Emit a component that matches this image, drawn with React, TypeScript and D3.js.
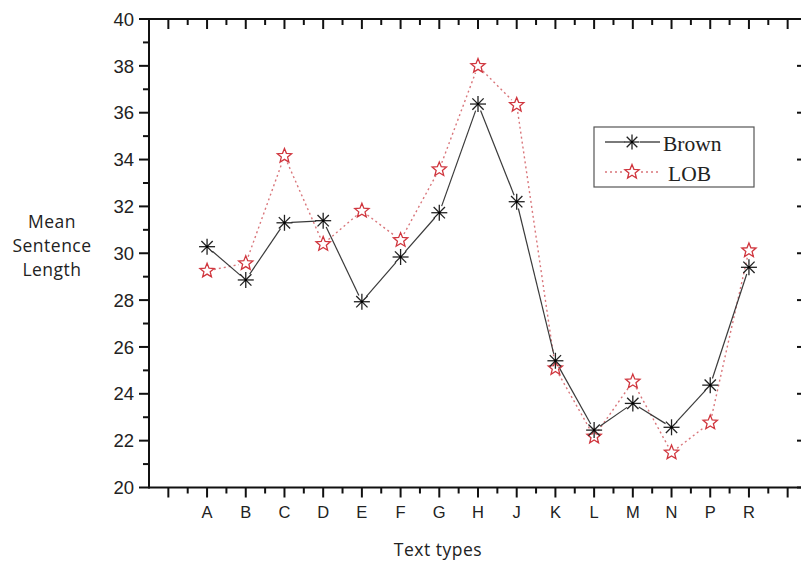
import React from "react";
import * as d3 from "d3";

const categories = ["", "A", "B", "C", "D", "E", "F", "G", "H", "J", "K", "L", "M", "N", "P", "R", ""];
const brownValues = [30.28, 28.86, 31.3, 31.39, 27.93, 29.84, 31.73, 36.37, 32.2, 25.41, 22.45, 23.59, 22.57, 24.37, 29.4];
const lobValues = [29.25, 29.57, 34.15, 30.39, 31.81, 30.56, 33.58, 37.99, 36.33, 25.09, 22.17, 24.52, 21.49, 22.77, 30.12];
const yTicks = [20, 22, 24, 26, 28, 30, 32, 34, 36, 38, 40];
const yMinorTicks = [21, 23, 25, 27, 29, 31, 33, 35, 37, 39];
const seriesNames = ["Brown", "LOB"];

const W = 801, H = 561;
const L = 149, R = 807, T = 19, B = 487.5;

function starPath(cx: number, cy: number, ro: number, ri: number) {
  const pts: [number, number][] = [];
  for (let i = 0; i < 10; i++) {
    const a = -Math.PI / 2 + (i * Math.PI) / 5;
    const r = i % 2 === 0 ? ro : ri;
    pts.push([cx + r * Math.cos(a), cy + r * Math.sin(a)]);
  }
  return "M" + pts.map((p) => p.join(",")).join("L") + "Z";
}

function Asterisk({ cx, cy, r }: { cx: number; cy: number; r: number }) {
  const angles = [0, 45, 90, 135];
  return (
    <g stroke="#222" strokeWidth={1.3}>
      {angles.map((a) => {
        const rad = (a * Math.PI) / 180;
        return (
          <line key={a} x1={cx - r * Math.cos(rad)} y1={cy - r * Math.sin(rad)} x2={cx + r * Math.cos(rad)} y2={cy + r * Math.sin(rad)} />
        );
      })}
      <circle cx={cx} cy={cy} r={1.3} fill="#000" stroke="none" />
    </g>
  );
}

function gapSegments(pts: [number, number][], gap: number) {
  const segs: [number, number, number, number][] = [];
  for (let i = 0; i < pts.length - 1; i++) {
    const [x1, y1] = pts[i];
    const [x2, y2] = pts[i + 1];
    const dx = x2 - x1, dy = y2 - y1;
    const len = Math.hypot(dx, dy);
    if (len <= 2 * gap) continue;
    const ux = dx / len, uy = dy / len;
    segs.push([x1 + ux * gap, y1 + uy * gap, x2 - ux * gap, y2 - uy * gap]);
  }
  return segs;
}

export default function App() {
  const x = d3.scaleLinear().domain([-0.5, categories.length - 0.5]).range([L, R]);
  const y = d3.scaleLinear().domain([20, 40]).range([B, T]);

  const brownPts: [number, number][] = brownValues.map((v, i) => [x(i + 1), y(v)]);
  const lobPts: [number, number][] = lobValues.map((v, i) => [x(i + 1), y(v)]);

  const majorX = d3.range(categories.length);
  const minorX = d3.range(categories.length - 1).map((i) => i + 0.5);

  const sans = "'Liberation Sans', Arial, sans-serif";
  const uiFont = "'Open Sans', 'Noto Sans', sans-serif";
  const serif = "'Liberation Serif', 'Times New Roman', serif";

  return (
    <svg width={W} height={H} style={{ position: "absolute", left: 0, top: 0, background: "#fff" }}>
      <rect x={0} y={0} width={W} height={H} fill="#fff" />

      {/* series lines */}
      {gapSegments(lobPts, 7).map((s, i) => (
        <line key={"l" + i} x1={s[0]} y1={s[1]} x2={s[2]} y2={s[3]} stroke="#d9767b" strokeWidth={1.4} strokeDasharray="2,3" />
      ))}
      {gapSegments(brownPts, 7).map((s, i) => (
        <line key={"b" + i} x1={s[0]} y1={s[1]} x2={s[2]} y2={s[3]} stroke="#3a3a3a" strokeWidth={1.2} />
      ))}

      {/* markers */}
      {lobPts.map(([px, py], i) => (
        <path key={"ls" + i} d={starPath(px, py, 7.5, 3.3)} fill="none" stroke="#d0363e" strokeWidth={1.3} />
      ))}
      {brownPts.map(([px, py], i) => (
        <Asterisk key={"bs" + i} cx={px} cy={py} r={8} />
      ))}

      {/* axes frame */}
      <g stroke="#111" strokeWidth={2}>
        <line x1={L} y1={B} x2={R} y2={B} />
        <line x1={L} y1={T} x2={R} y2={T} />
        <line x1={L} y1={T - 1} x2={L} y2={B + 1} />
        <line x1={R} y1={T - 1} x2={R} y2={B + 1} />
        {majorX.map((i) => (
          <g key={"mx" + i}>
            <line x1={x(i)} y1={B} x2={x(i)} y2={B + 10} />
            <line x1={x(i)} y1={T} x2={x(i)} y2={T + 10} />
          </g>
        ))}
        {minorX.map((v) => (
          <g key={"nx" + v}>
            <line x1={x(v)} y1={B} x2={x(v)} y2={B + 6} />
            <line x1={x(v)} y1={T} x2={x(v)} y2={T + 6} />
          </g>
        ))}
        {yTicks.map((v) => (
          <g key={"my" + v}>
            <line x1={L - 10} y1={y(v)} x2={L} y2={y(v)} />
            <line x1={R - 10} y1={y(v)} x2={R} y2={y(v)} />
          </g>
        ))}
        {yMinorTicks.map((v) => (
          <g key={"ny" + v}>
            <line x1={L - 6} y1={y(v)} x2={L} y2={y(v)} />
            <line x1={R - 6} y1={y(v)} x2={R} y2={y(v)} />
          </g>
        ))}
      </g>

      {/* tick labels */}
      {yTicks.map((v) => (
        <text key={"yl" + v} x={134} y={y(v)} dy="0.36em" textAnchor="end" fontFamily={sans} fontSize={18.5} fill="#222">
          {v}
        </text>
      ))}
      {categories.map((c, i) =>
        c ? (
          <text key={"xl" + i} x={x(i)} y={518} textAnchor="middle" fontFamily={sans} fontSize={16.5} fill="#222">
            {c}
          </text>
        ) : null
      )}

      {/* axis titles */}
      <text x={52} y={222} dy="0.35em" textAnchor="middle" fontFamily={uiFont} fontSize={17.5} letterSpacing={0.5} fill="#222">Mean</text>
      <text x={52} y={246} dy="0.35em" textAnchor="middle" fontFamily={uiFont} fontSize={17.5} letterSpacing={0.5} fill="#222">Sentence</text>
      <text x={52} y={270} dy="0.35em" textAnchor="middle" fontFamily={uiFont} fontSize={17.5} letterSpacing={0.5} fill="#222">Length</text>
      <text x={438} y={550} dy="0.35em" textAnchor="middle" fontFamily={uiFont} fontSize={17.5} letterSpacing={0.5} fill="#222">Text types</text>

      {/* legend */}
      <rect x={594} y={127} width={160} height={60} fill="#fff" stroke="#555" strokeWidth={1.2} />
      <line x1={605} y1={142} x2={625} y2={142} stroke="#222" strokeWidth={1.2} />
      <line x1={640} y1={142} x2={660} y2={142} stroke="#222" strokeWidth={1.2} />
      <Asterisk cx={632} cy={142} r={7.5} />
      <text x={663} y={143} dy="0.35em" fontFamily={serif} fontSize={21.5} fill="#222">{seriesNames[0]}</text>
      <line x1={605} y1={172} x2={624} y2={172} stroke="#d9767b" strokeWidth={1.3} strokeDasharray="2,3" />
      <line x1={641} y1={172} x2={660} y2={172} stroke="#d9767b" strokeWidth={1.3} strokeDasharray="2,3" />
      <path d={starPath(632, 172, 7.5, 3.3)} fill="none" stroke="#d0363e" strokeWidth={1.3} />
      <text x={668} y={173} dy="0.35em" fontFamily={serif} fontSize={21.5} fill="#222">{seriesNames[1]}</text>
    </svg>
  );
}
